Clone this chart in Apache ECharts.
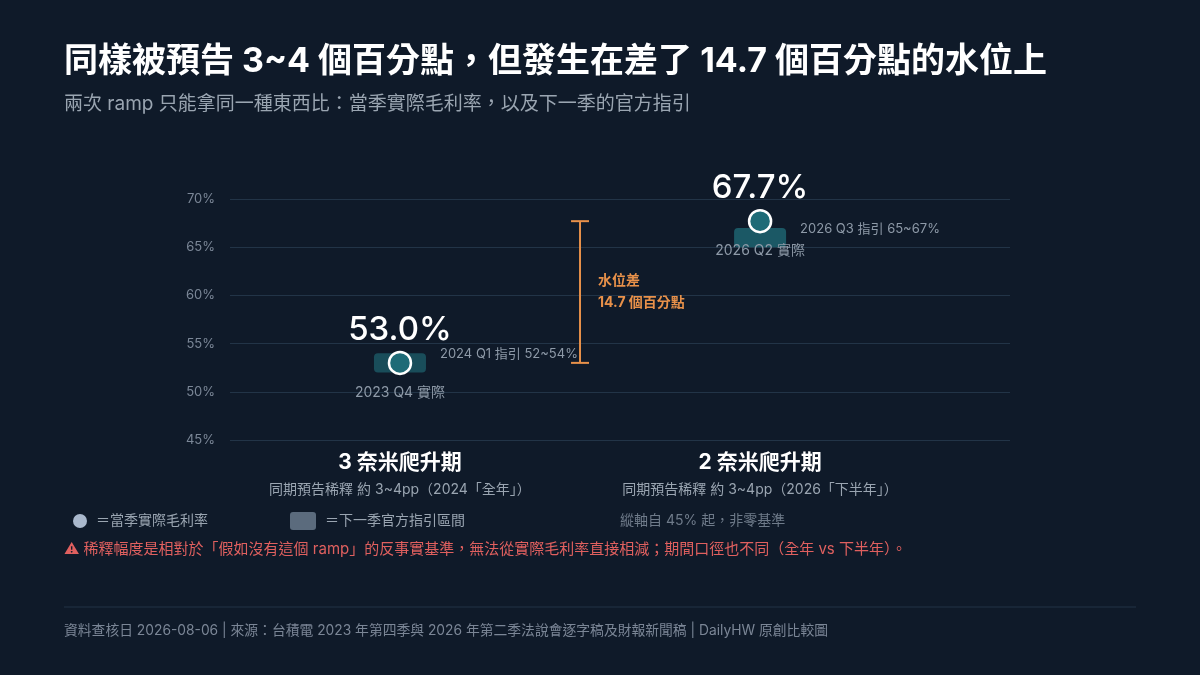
<!DOCTYPE html>
<html>
<head>
<meta charset="utf-8">
<script src="https://cdn.jsdelivr.net/npm/echarts@6/dist/echarts.min.js"></script>
<style>
html,body{margin:0;padding:0;background:#0f1a29;}
#c{width:1200px;height:675px;}
</style>
</head>
<body>
<div id="c"></div>
<script>
const categories = ['3 奈米爬升期', '2 奈米爬升期'];
const categorySubs = ['同期預告稀釋 約 3~4pp（2024「全年」）', '同期預告稀釋 約 3~4pp（2026「下半年」）'];
const categoryPos = [0, 1];
const actualLabels = ['2023 Q4 實際', '2026 Q2 實際'];
const actualValues = [53.0, 67.7];
const guideLabels = ['2024 Q1 指引 52~54%', '2026 Q3 指引 65~67%'];
const guideLow = [52, 65];
const guideHigh = [54, 67];
const gapPos = 0.5;
const gapLabels = ['水位差', '14.7 個百分點'];
const yMin = 45, yMax = 70, yStep = 5;

const FONT = 'Inter, "Noto Sans CJK TC", "Noto Sans", sans-serif';
const boxOpacity = [0.75, 0.9];

const chart = echarts.init(document.getElementById('c'), null, {renderer: 'canvas'});

const option = {
  backgroundColor: '#0f1a29',
  textStyle: {fontFamily: FONT},
  animation: false,
  grid: {left: 230, right: 190, top: 199, bottom: 235},
  xAxis: {type: 'value', min: -0.472, max: 1.694, show: false},
  yAxis: {
    type: 'value', min: yMin, max: yMax, interval: yStep,
    axisLine: {show: false}, axisTick: {show: false},
    axisLabel: {formatter: '{value}%', color: '#7b8797', fontSize: 13, margin: 15, fontFamily: FONT},
    splitLine: {lineStyle: {color: '#223447', width: 1}}
  },
  graphic: [
    {type: 'text', left: 64, top: 45, style: {text: '同樣被預告 3~4 個百分點，但發生在差了 14.7 個百分點的水位上', fill: '#ffffff', font: 'bold 34px ' + FONT}},
    {type: 'text', left: 64, top: 95, style: {text: '兩次 ramp 只能拿同一種東西比：當季實際毛利率，以及下一季的官方指引', fill: '#9aa5b1', font: '19px ' + FONT}},
    {type: 'circle', shape: {cx: 80, cy: 521, r: 7}, style: {fill: '#a9b8cc'}},
    {type: 'text', left: 96, top: 514, style: {text: '＝當季實際毛利率', fill: '#9aa5b1', font: '14px ' + FONT}},
    {type: 'rect', shape: {x: 290, y: 512, width: 26, height: 18, r: 3}, style: {fill: '#5b6b7d'}},
    {type: 'text', left: 325, top: 514, style: {text: '＝下一季官方指引區間', fill: '#9aa5b1', font: '14px ' + FONT}},
    {type: 'text', left: 620, top: 514, style: {text: '縱軸自 45% 起，非零基準', fill: '#6f7b8a', font: '14px ' + FONT}},
    {type: 'text', left: 64, top: 542, style: {text: '⚠ 稀釋幅度是相對於「假如沒有這個 ramp」的反事實基準，無法從實際毛利率直接相減；期間口徑也不同（全年 vs 下半年）。', fill: '#e0605f', font: '15px ' + FONT}},
    {type: 'line', shape: {x1: 64, y1: 607, x2: 1136, y2: 607}, style: {stroke: '#223246', lineWidth: 1}},
    {type: 'text', left: 64, top: 624, style: {text: '資料查核日 2026-08-06 | 來源：台積電 2023 年第四季與 2026 年第二季法說會逐字稿及財報新聞稿 | DailyHW 原創比較圖', fill: '#7b8696', font: '13.8px ' + FONT}}
  ],
  series: [
    {
      type: 'custom',
      clip: false,
      data: categoryPos.map((p, i) => [p, guideLow[i], guideHigh[i], actualValues[i], i]),
      renderItem: function (params, api) {
        const i = api.value(4);
        const lo = api.coord([api.value(0), api.value(1)]);
        const hi = api.coord([api.value(0), api.value(2)]);
        const act = api.coord([api.value(0), api.value(3)]);
        const base = api.coord([api.value(0), yMin]);
        return {
          type: 'group',
          children: [
            {type: 'rect', shape: {x: lo[0] - 26, y: hi[1], width: 52, height: lo[1] - hi[1], r: 4},
             style: {fill: '#1d5f6b', opacity: boxOpacity[i]}},
            {type: 'text', style: {x: lo[0] + 40, y: hi[1] + 1, text: guideLabels[i], fill: '#8e9aa8', font: '13px ' + FONT, verticalAlign: 'middle', align: 'left'}},
            {type: 'text', style: {x: act[0], y: act[1] + 30, text: actualLabels[i], fill: '#8e9aa8', font: '14px ' + FONT, verticalAlign: 'middle', align: 'center'}},
            {type: 'text', style: {x: base[0], y: base[1] + 23, text: categories[i], fill: '#ffffff', font: 'bold 21px ' + FONT, verticalAlign: 'middle', align: 'center'}},
            {type: 'text', style: {x: base[0], y: base[1] + 50, text: categorySubs[i], fill: '#9aa5b1', font: '14px ' + FONT, verticalAlign: 'middle', align: 'center'}}
          ]
        };
      },
      z: 2
    },
    {
      type: 'scatter',
      data: categoryPos.map((p, i) => [p, actualValues[i]]),
      symbol: 'circle',
      symbolSize: 22,
      itemStyle: {color: '#1e6b77', borderColor: '#ffffff', borderWidth: 2.5, opacity: 1},
      label: {show: true, position: 'top', distance: 4, formatter: p => p.value[1].toFixed(1) + '%', color: '#ffffff', opacity: 1, textBorderWidth: 0, fontSize: 33, fontWeight: 500, fontFamily: FONT},
      z: 5
    },
    {
      type: 'custom',
      clip: false,
      data: [[gapPos, actualValues[0], actualValues[1]]],
      renderItem: function (params, api) {
        const a = api.coord([api.value(0), api.value(1)]);
        const b = api.coord([api.value(0), api.value(2)]);
        const st = {stroke: '#e8914a', lineWidth: 2};
        const mid = (a[1] + b[1]) / 2;
        return {
          type: 'group',
          children: [
            {type: 'line', shape: {x1: a[0], y1: a[1], x2: b[0], y2: b[1]}, style: st},
            {type: 'line', shape: {x1: a[0] - 9, y1: a[1], x2: a[0] + 9, y2: a[1]}, style: st},
            {type: 'line', shape: {x1: b[0] - 9, y1: b[1], x2: b[0] + 9, y2: b[1]}, style: st},
            {type: 'text', style: {x: a[0] + 18, y: mid - 11, text: gapLabels[0], fill: '#e8914a', font: 'bold 14px ' + FONT, verticalAlign: 'middle', align: 'left'}},
            {type: 'text', style: {x: a[0] + 18, y: mid + 11, text: gapLabels[1], fill: '#e8914a', font: 'bold 14px ' + FONT, verticalAlign: 'middle', align: 'left'}}
          ]
        };
      },
      z: 3
    }
  ]
};
chart.setOption(option);
</script>
</body>
</html>
